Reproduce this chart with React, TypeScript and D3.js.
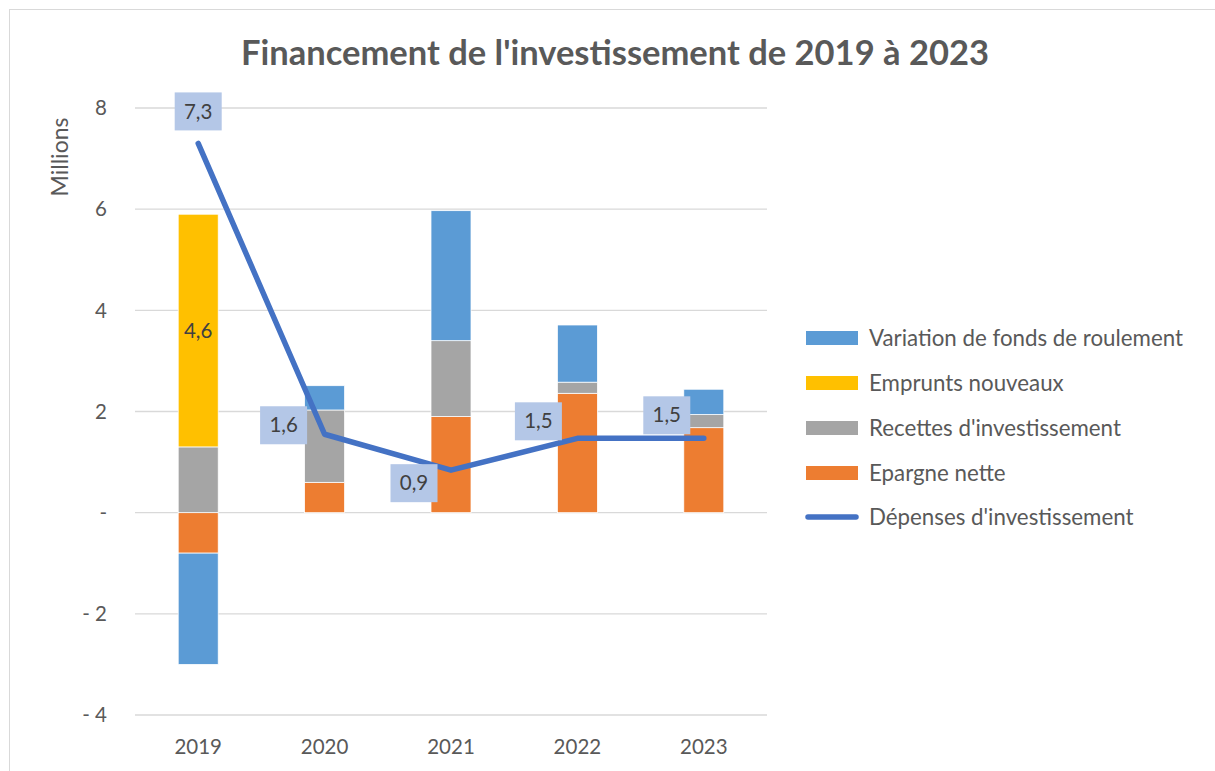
import React from 'react';
import * as d3 from 'd3';

// chart values, in millions
const years = ['2019', '2020', '2021', '2022', '2023'];
const epargneNette = [-0.8, 0.6, 1.9, 2.36, 1.68];
const recettesInvest = [1.3, 1.43, 1.5, 0.22, 0.26];
const empruntsNouveaux = [4.6, 0, 0, 0, 0];
const variationFdr = [-2.2, 0.48, 2.57, 1.13, 0.5];
const depensesInvest = [7.3, 1.55, 0.84, 1.47, 1.47];
const depensesLabels = ['7,3', '1,6', '0,9', '1,5', '1,5'];
const yTicks = [-4, -2, 0, 2, 4, 6, 8];
const yTickLabels = ['- 4', '- 2', '-', '2', '4', '6', '8'];

const seriesNames = ['Epargne nette', "Recettes d'investissement", 'Emprunts nouveaux', 'Variation de fonds de roulement'];
const seriesColors = ['#ed7d31', '#a5a5a5', '#ffc000', '#5b9bd5'];
const lineName = "Dépenses d'investissement";
const lineColor = '#4472c4';

// where each line label sits relative to its point
const labelOffsets: [number, number][] = [[0, -32], [-41, -9], [-37, 13], [-39, -17], [-37, -23]];

const font = 'Lato, "Open Sans", sans-serif';
const textColor = '#595959';

export default function App() {
  const width = 1215;
  const height = 771;

  const x = d3.scaleBand().domain(years).range([135, 767]).padding(0);
  const y = d3.scaleLinear().domain([-4, 8]).range([715, 108]);
  const barW = 40;
  const cx = (yr: string) => (x(yr) as number) + x.bandwidth() / 2;

  const rows = years.map((yr, i) => ({
    year: yr,
    s0: epargneNette[i],
    s1: recettesInvest[i],
    s2: empruntsNouveaux[i],
    s3: variationFdr[i],
  }));
  const stacked = d3.stack<any>()
    .keys(['s0', 's1', 's2', 's3'])
    .offset(d3.stackOffsetDiverging)(rows);

  const line = d3.line<number>()
    .x((_, i) => cx(years[i]))
    .y((d) => y(d));

  const legendItems = [3, 2, 1, 0];

  return (
    <div style={{ position: 'absolute', left: 0, top: 0 }}>
      <svg width={width} height={height} style={{ display: 'block', background: '#fff' }}>
        <rect x={9.5} y={9.5} width={width + 10} height={height + 10} fill="#fff" stroke="#d9d9d9" strokeWidth={1} />

        <text x={615} y={65} textAnchor="middle" fontFamily={font} fontWeight="bold" fontSize={34.5} fill={textColor}>
          Financement de l'investissement de 2019 à 2023
        </text>

        {yTicks.map((t) => (
          <line key={'g' + t} x1={135} x2={767} y1={y(t)} y2={y(t)} stroke="#d9d9d9" strokeWidth={1.3} />
        ))}
        {yTicks.map((t, i) => (
          <text key={'t' + t} x={107} y={y(t)} dy="0.35em" textAnchor="end" fontFamily={font} fontSize={20.5} fill={textColor}>
            {yTickLabels[i]}
          </text>
        ))}
        <text transform="translate(60,157) rotate(-90)" textAnchor="middle" dy="0.35em" fontFamily={font} fontSize={23} fill={textColor}>
          Millions
        </text>

        {years.map((yr) => (
          <text key={'c' + yr} x={cx(yr)} y={747} dy="0.35em" textAnchor="middle" fontFamily={font} fontSize={20.5} fill={textColor}>
            {yr}
          </text>
        ))}

        {stacked.map((s, si) => (
          <g key={s.key} fill={seriesColors[si]}>
            {s.map((d, i) => {
              const top = y(Math.max(d[0], d[1]));
              const h = Math.abs(y(d[0]) - y(d[1]));
              if (h < 0.5) return null;
              return (
                <rect key={i} x={cx(years[i]) - barW / 2} y={top} width={barW} height={h} stroke="#fff" strokeWidth={0.75} />
              );
            })}
          </g>
        ))}

        {/* value of the new loans, inside its bar */}
        {stacked[2].map((d, i) =>
          empruntsNouveaux[i] !== 0 ? (
            <text key={'e' + i} x={cx(years[i])} y={y((d[0] + d[1]) / 2)} dy="0.35em" textAnchor="middle" fontFamily={font} fontSize={20.5} fill="#404040">
              {String(empruntsNouveaux[i]).replace('.', ',')}
            </text>
          ) : null
        )}

        <path d={line(depensesInvest) as string} fill="none" stroke={lineColor} strokeWidth={5.5} strokeLinecap="round" strokeLinejoin="round" />

        {depensesInvest.map((v, i) => {
          const px = cx(years[i]) + labelOffsets[i][0];
          const py = y(v) + labelOffsets[i][1];
          return (
            <g key={'l' + i}>
              <rect x={px - 23.5} y={py - 19} width={47} height={38} fill="#b4c7e7" />
              <text x={px} y={py} dy="0.35em" textAnchor="middle" fontFamily={font} fontSize={20.5} fill="#404040">
                {depensesLabels[i]}
              </text>
            </g>
          );
        })}

        {legendItems.map((si, k) => {
          const ly = 338 + k * 45;
          return (
            <g key={'lg' + si}>
              <rect x={806} y={ly - 7} width={52} height={14} fill={seriesColors[si]} />
              <text x={869} y={ly} dy="0.35em" fontFamily={font} fontSize={22.3} fill={textColor}>
                {seriesNames[si]}
              </text>
            </g>
          );
        })}
        <line x1={808} x2={856} y1={517} y2={517} stroke={lineColor} strokeWidth={5.5} strokeLinecap="round" />
        <text x={869} y={517} dy="0.35em" fontFamily={font} fontSize={22.3} fill={textColor}>
          {lineName}
        </text>
      </svg>
    </div>
  );
}
